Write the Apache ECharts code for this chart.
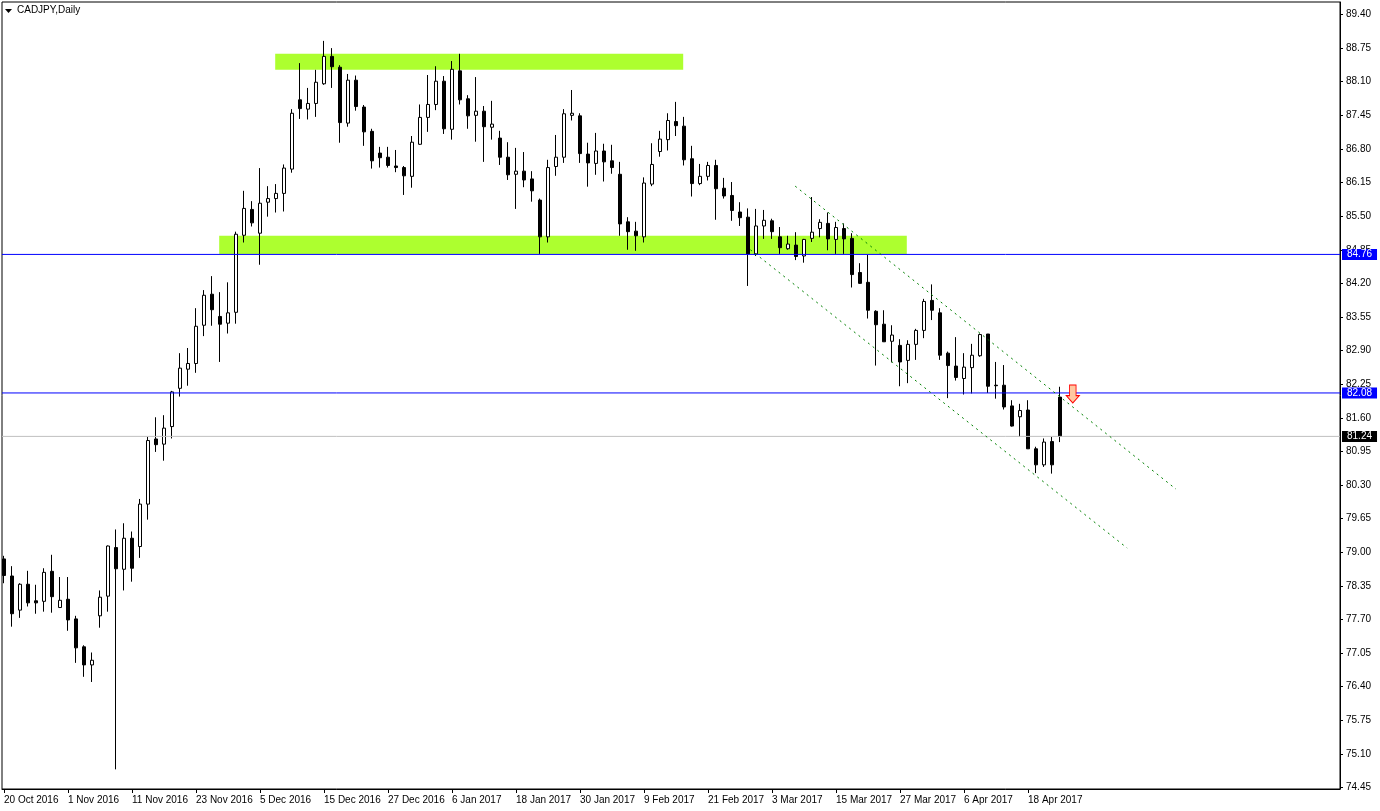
<!DOCTYPE html>
<html><head><meta charset="utf-8">
<script src="https://cdn.jsdelivr.net/npm/echarts@6/dist/echarts.min.js"></script>
<style>html,body{margin:0;padding:0;background:#fff}#c{width:1380px;height:811px}</style>
</head><body><div id="c"></div>
<script>
const chartTitle = 'CADJPY,Daily';
const dateTickBars = [0, 8, 16, 24, 32, 40, 48, 56, 64, 72, 80, 88, 96, 104, 112, 120, 128];
const dateTickLabels = ['20 Oct 2016', '1 Nov 2016', '11 Nov 2016', '23 Nov 2016', '5 Dec 2016', '15 Dec 2016',
  '27 Dec 2016', '6 Jan 2017', '18 Jan 2017', '30 Jan 2017', '9 Feb 2017', '21 Feb 2017', '3 Mar 2017',
  '15 Mar 2017', '27 Mar 2017', '6 Apr 2017', '18 Apr 2017'];
const priceTicks = [74.45, 75.10, 75.75, 76.40, 77.05, 77.70, 78.35, 79.00, 79.65, 80.30, 80.95, 81.60,
  82.25, 82.90, 83.55, 84.20, 84.85, 85.50, 86.15, 86.80, 87.45, 88.10, 88.75, 89.40];

const openP = [
  78.87, 78.54, 77.88, 78.38, 78.06, 78.05, 78.63, 77.93, 78.09, 77.71,
  77.17, 76.82, 77.77, 78.15, 79.09, 78.67, 79.27, 79.11, 79.93, 81.19,
  81.09, 81.43, 82.17, 82.54, 82.65, 83.39, 83.99, 83.56, 83.43, 83.64,
  85.13, 85.63, 85.17, 85.77, 85.84, 85.94, 86.41, 87.75, 87.57, 87.68,
  88.06, 88.59, 88.38, 87.30, 88.13, 87.61, 87.14, 86.72, 86.64, 86.47,
  86.44, 86.27, 86.89, 87.41, 87.66, 88.11, 87.18, 88.31, 87.77, 87.45,
  87.53, 87.22, 87.01, 86.64, 86.31, 86.37, 86.22, 85.81, 85.10, 86.46,
  86.64, 87.45, 87.44, 86.70, 86.52, 86.76, 86.57, 86.31, 85.39, 85.21,
  85.10, 86.12, 86.75, 86.98, 87.33, 87.24, 86.61, 86.13, 86.27, 86.48,
  86.04, 85.90, 85.58, 85.48, 84.77, 85.31, 85.41, 85.10, 84.87, 84.94,
  84.73, 85.07, 85.26, 85.36, 85.05, 85.26, 85.07, 84.41, 84.22, 83.66,
  83.41, 83.08, 83.00, 82.71, 83.02, 83.29, 83.87, 83.63, 82.85, 82.60,
  82.36, 82.57, 82.80, 83.22, 82.23, 82.23, 81.83, 81.62, 81.75, 81.00,
  80.69, 81.14, 82.00];
const highP = [
  78.93, 78.73, 78.40, 78.64, 78.37, 78.69, 78.95, 78.52, 78.52, 77.77,
  77.20, 77.06, 78.26, 79.13, 79.44, 79.56, 79.40, 80.03, 81.23, 81.61,
  81.65, 82.12, 82.85, 82.95, 83.72, 84.07, 84.34, 84.03, 84.22, 85.20,
  85.99, 85.79, 86.43, 86.08, 86.12, 86.50, 87.57, 88.46, 87.98, 88.33,
  88.89, 88.75, 88.42, 88.25, 88.22, 87.65, 87.19, 86.84, 86.84, 86.78,
  86.47, 87.05, 87.66, 88.23, 88.40, 88.21, 88.50, 88.64, 87.84, 88.19,
  87.63, 87.73, 87.15, 86.93, 86.82, 86.74, 86.37, 85.84, 86.59, 87.07,
  87.57, 87.94, 87.49, 86.92, 87.11, 86.90, 86.88, 86.55, 85.48, 85.39,
  86.25, 86.91, 87.15, 87.49, 87.71, 87.42, 86.86, 86.51, 86.55, 86.59,
  86.24, 86.16, 85.77, 85.65, 85.64, 85.62, 85.45, 85.29, 85.12, 85.19,
  85.06, 85.87, 85.44, 85.57, 85.39, 85.36, 85.17, 84.59, 84.75, 83.68,
  83.68, 83.39, 83.12, 83.10, 83.32, 83.90, 84.18, 83.72, 82.88, 83.16,
  82.85, 83.03, 83.23, 83.22, 82.68, 82.62, 81.94, 81.87, 81.94, 81.04,
  81.20, 81.23, 82.20];
const lowP = [
  78.40, 77.56, 77.73, 77.95, 77.81, 77.85, 77.83, 77.92, 77.48, 76.86,
  76.59, 76.49, 77.54, 77.85, 74.80, 78.26, 78.43, 78.89, 79.63, 80.94,
  80.77, 81.20, 82.01, 82.22, 82.47, 83.18, 83.38, 82.68, 83.23, 83.42,
  84.99, 85.30, 84.56, 85.49, 85.57, 85.59, 86.34, 87.38, 87.37, 87.42,
  88.04, 87.98, 86.92, 87.23, 87.54, 86.86, 86.42, 86.44, 86.44, 86.35,
  85.91, 86.05, 86.88, 87.13, 87.55, 87.09, 86.98, 87.66, 87.19, 86.94,
  86.55, 86.98, 86.49, 86.20, 85.64, 86.06, 85.78, 84.77, 84.99, 86.28,
  86.53, 87.35, 86.53, 86.07, 86.30, 86.17, 86.32, 85.12, 84.85, 84.83,
  84.99, 86.08, 86.65, 86.77, 87.05, 86.48, 85.88, 86.10, 86.19, 85.43,
  85.84, 85.41, 85.31, 84.15, 84.73, 85.06, 85.06, 84.77, 84.85, 84.65,
  84.60, 85.00, 85.09, 84.84, 84.77, 84.77, 84.12, 84.19, 83.52, 82.61,
  83.07, 82.67, 82.21, 82.27, 82.72, 83.14, 83.49, 82.72, 81.98, 82.32,
  82.05, 82.07, 82.78, 82.08, 81.97, 81.76, 81.43, 81.23, 81.00, 80.53,
  80.65, 80.52, 81.13];
const closeP = [
  78.55, 77.81, 78.38, 78.02, 78.02, 78.61, 78.14, 78.07, 77.69, 77.15,
  76.82, 76.91, 78.13, 79.12, 78.68, 79.27, 78.69, 79.93, 81.16, 81.08,
  81.40, 82.10, 82.56, 82.65, 83.37, 83.97, 83.69, 83.41, 83.63, 85.15,
  85.65, 85.37, 85.75, 85.84, 85.94, 86.43, 87.49, 87.58, 87.68, 88.09,
  88.59, 88.39, 87.31, 88.13, 87.62, 87.13, 86.57, 86.63, 86.48, 86.44,
  86.28, 86.93, 87.41, 87.66, 88.11, 87.19, 88.34, 87.75, 87.44, 87.53,
  87.23, 87.28, 86.64, 86.30, 86.37, 86.20, 85.99, 85.10, 86.44, 86.64,
  87.48, 87.49, 86.71, 86.53, 86.76, 86.55, 86.44, 85.35, 85.20, 85.12,
  86.14, 86.50, 86.99, 87.35, 87.25, 86.59, 86.13, 86.27, 86.48, 86.03,
  85.89, 85.61, 85.47, 84.77, 85.31, 85.42, 85.20, 84.89, 84.96, 84.72,
  85.05, 85.19, 85.38, 85.06, 85.28, 85.06, 84.37, 84.20, 83.68, 83.40,
  83.07, 83.20, 82.68, 83.02, 83.29, 83.85, 83.68, 82.81, 82.61, 82.38,
  82.58, 82.81, 83.21, 82.21, 82.22, 81.81, 81.44, 81.74, 81.00, 80.69,
  81.13, 80.69, 81.24];

const levelLines = [84.76, 82.08];
const bidPrice = 81.24;
// zones: [barFrom, priceTop, barTo, priceBottom]
const zoneTop = [33.9, 88.64, 84.9, 88.33];
const zoneBottom = [26.9, 85.12, 112.85, 84.77];
const channelUpper = [[98.9, 86.08], [146.5, 80.22]];
const channelLower = [[93.3, 84.85], [140.4, 79.08]];
const sellArrow = [133.6, 82.06];

const X_MIN = -0.25, X_MAX = 167;
const candles = openP.map((o, i) => [i, o, closeP[i], lowP[i], highP[i]]);
const FONT = 'Liberation Sans';

function levelSeries(value, lineColor, boxColor) {
  return {
    type: 'line', data: [[X_MIN, value], [X_MAX, value]], silent: true, z: 4,
    symbol: 'none', showSymbol: false, clip: false,
    color: lineColor,
    lineStyle: {color: lineColor, width: 1, type: 'solid', opacity: 1},
    endLabel: {show: true, distance: 2, formatter: value.toFixed(2), color: '#fff',
      backgroundColor: boxColor, padding: [1, 5, 0, 5], fontSize: 10, fontFamily: FONT}
  };
}

const chart = echarts.init(document.getElementById('c'), null, {renderer: 'canvas'});
chart.setOption({
  animation: false,
  backgroundColor: '#ffffff',
  grid: {left: 2, top: 2, width: 1338, height: 787, show: true, borderColor: '#000', borderWidth: 1, backgroundColor: '#fff'},
  xAxis: {
    type: 'value', min: X_MIN, max: X_MAX,
    axisLine: {show: true, onZero: false, lineStyle: {color: '#000', width: 1}},
    axisTick: {show: true, customValues: dateTickBars, length: 4, lineStyle: {color: '#000'}},
    axisLabel: {
      show: true, customValues: dateTickBars, align: 'left', margin: 6,
      formatter: v => dateTickLabels[dateTickBars.indexOf(Math.round(v))] || '',
      color: '#000', fontSize: 10, fontFamily: FONT
    },
    splitLine: {show: false}
  },
  yAxis: {
    type: 'value', position: 'right', min: 74.42, max: 89.642,
    axisLine: {show: true, onZero: false, lineStyle: {color: '#000', width: 1}},
    axisTick: {show: true, customValues: priceTicks, length: 3, lineStyle: {color: '#000'}},
    axisLabel: {show: true, customValues: priceTicks, formatter: v => v.toFixed(2), margin: 6,
      color: '#000', fontSize: 10, fontFamily: FONT},
    splitLine: {show: false}
  },
  graphic: [
    {type: 'polygon', shape: {points: [[5, 9], [12, 9], [8.5, 13]]}, style: {fill: '#000'}},
    {type: 'text', left: 17, top: 5, style: {text: chartTitle, font: '10px "Liberation Sans"', fill: '#000'}}
  ],
  series: [
    {
      type: 'line', data: [], silent: true,
      markArea: {
        silent: true, itemStyle: {color: '#adff2f', opacity: 1},
        data: [
          [{coord: [zoneTop[0], zoneTop[1]]}, {coord: [zoneTop[2], zoneTop[3]]}],
          [{coord: [zoneBottom[0], zoneBottom[1]]}, {coord: [zoneBottom[2], zoneBottom[3]]}]
        ]
      }
    },
    {
      type: 'candlestick', data: candles, encode: {x: 0, y: [1, 2, 3, 4]}, barWidth: 4, z: 3,
      itemStyle: {color: '#ffffff', color0: '#000000', borderColor: '#000000', borderColor0: '#000000', borderWidth: 1}
    },
    levelSeries(bidPrice, '#c0c0c0', '#000000'),
    levelSeries(levelLines[0], '#0000ff', '#0000ff'),
    levelSeries(levelLines[1], '#0000ff', '#0000ff'),
    {type: 'line', data: channelUpper, symbol: 'none', silent: true, z: 4,
     lineStyle: {color: '#008000', width: 1, type: [2, 4]}},
    {type: 'line', data: channelLower, symbol: 'none', silent: true, z: 4,
     lineStyle: {color: '#008000', width: 1, type: [2, 4]}},
    {type: 'scatter', data: [sellArrow], z: 5, silent: true,
     symbol: 'path://M3,0 L9,0 L9,10 L12,10 L6,17 L0,10 L3,10 Z', symbolSize: [13, 18],
     itemStyle: {color: '#ffc8a0', borderColor: '#ff0000', borderWidth: 1, opacity: 1}}
  ]
});
</script></body></html>
